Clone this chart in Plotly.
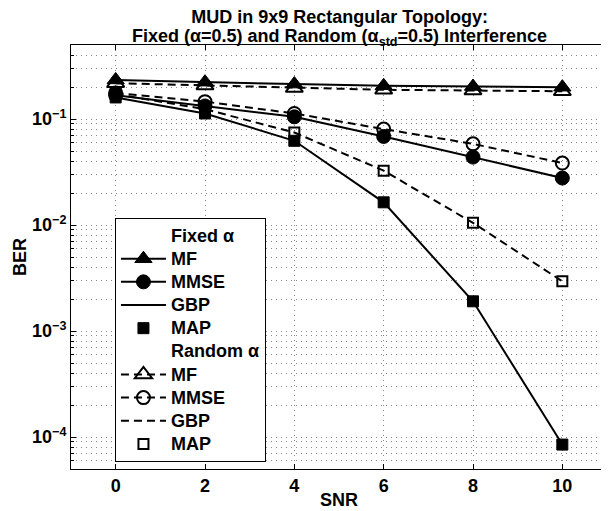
import plotly.graph_objects as go
import math

snr = [0, 2, 4, 6, 8, 10]
fixed_mf = [0.234, 0.223, 0.214, 0.206, 0.203, 0.200]
fixed_mmse = [0.168, 0.133, 0.105, 0.0686, 0.0438, 0.0278]
fixed_gbp = [0.160, 0.113, 0.0624, 0.0164, 0.00191, 0.000085]
fixed_map = [0.160, 0.113, 0.0624, 0.0164, 0.00191, 0.000085]
random_mf = [0.218, 0.207, 0.196, 0.189, 0.186, 0.183]
random_mmse = [0.176, 0.146, 0.113, 0.0805, 0.0584, 0.0385]
random_gbp = [0.172, 0.124, 0.0748, 0.0326, 0.0105, 0.00295]
random_map = [0.172, 0.124, 0.0748, 0.0326, 0.0105, 0.00295]

x_ticks = [0, 2, 4, 6, 8, 10]
y_major = [1e-4, 1e-3, 1e-2, 1e-1]
y_major_text = ["10<sup>\u22124</sup>", "10<sup>\u22123</sup>", "10<sup>\u22122</sup>", "10<sup>\u22121</sup>"]

title_lines = ["MUD in 9x9 Rectangular Topology:",
               "Fixed (\u03b1=0.5) and Random (\u03b1<sub>std</sub>=0.5) Interference"]

FONT = "Liberation Sans"
DASH = "8px,5px"

y_minor = []
for e in range(-5, 0):
    for m in range(2, 10):
        v = m * 10 ** e
        if 5e-5 <= v <= 0.5:
            y_minor.append(v)


def big(text):
    # rows/lines are spaced by the outer (smaller) font; the text itself is drawn at 18px
    return '<span style="font-size:18px">' + text + '</span>'


fig = go.Figure()


def blank(name):
    fig.add_trace(go.Scatter(x=[None], y=[None], mode="lines", name=big(name),
                             line=dict(color="rgba(0,0,0,0)", width=1), hoverinfo="skip"))


# Fixed alpha
blank("Fixed \u03b1")
fig.add_trace(go.Scatter(x=snr, y=fixed_mf, name=big("MF"), mode="lines+markers",
                         line=dict(color="black", width=2),
                         marker=dict(symbol="triangle-up", size=15, color="black",
                                     line=dict(color="black", width=1))))
fig.add_trace(go.Scatter(x=snr, y=fixed_mmse, name=big("MMSE"), mode="lines+markers",
                         line=dict(color="black", width=2),
                         marker=dict(symbol="circle", size=14, color="black",
                                     line=dict(color="black", width=1))))
fig.add_trace(go.Scatter(x=snr, y=fixed_gbp, name=big("GBP"), mode="lines",
                         line=dict(color="black", width=2)))
fig.add_trace(go.Scatter(x=snr, y=fixed_map, name=big("MAP"), mode="markers",
                         marker=dict(symbol="square", size=11, color="black",
                                     line=dict(color="black", width=1))))
# Random alpha
blank("Random \u03b1")
fig.add_trace(go.Scatter(x=snr, y=random_mf, name=big("MF"), mode="lines+markers",
                         line=dict(color="black", width=2, dash=DASH),
                         marker=dict(symbol="triangle-up-open", size=15, color="black",
                                     line=dict(color="black", width=2))))
fig.add_trace(go.Scatter(x=snr, y=random_mmse, name=big("MMSE"), mode="lines+markers",
                         line=dict(color="black", width=2, dash=DASH),
                         marker=dict(symbol="circle-open", size=13, color="black",
                                     line=dict(color="black", width=2))))
fig.add_trace(go.Scatter(x=snr, y=random_gbp, name=big("GBP"), mode="lines",
                         line=dict(color="black", width=2, dash=DASH)))
fig.add_trace(go.Scatter(x=snr, y=random_map, name=big("MAP"), mode="markers",
                         marker=dict(symbol="square-open", size=10, color="black",
                                     line=dict(color="black", width=2))))

grid_col = "#8a8a8a"
grid_dash = "1px,4px"

# page body has an 8px margin, so the figure is offset by 8px right and down
fig.update_layout(
    width=601, height=503,
    margin=dict(l=63, r=2, t=37, b=42),
    paper_bgcolor="white", plot_bgcolor="white",
    font=dict(family=FONT, size=18, color="black", weight="bold"),
    showlegend=True,
    legend=dict(x=0.082, y=0.592, xanchor="left", yanchor="top",
                bgcolor="white", bordercolor="black", borderwidth=1,
                font=dict(family=FONT, size=15.5, color="black", weight="bold"),
                tracegroupgap=0, itemwidth=45,
                entrywidthmode="pixels", entrywidth=100),
    xaxis=dict(range=[-1, 11], tickmode="array", tickvals=x_ticks,
               showgrid=True, gridcolor=grid_col, griddash=grid_dash, gridwidth=1,
               zeroline=False, showline=True, linecolor="black", linewidth=1,
               mirror="allticks", ticks="inside", ticklen=5, tickcolor="black",
               tickfont=dict(family=FONT, size=18, color="black", weight="bold")),
    yaxis=dict(type="log", range=[math.log10(5e-5), math.log10(0.5)],
               tickmode="array", tickvals=y_major, ticktext=y_major_text,
               showgrid=True, gridcolor=grid_col, griddash=grid_dash, gridwidth=1,
               zeroline=False, showline=True, linecolor="black", linewidth=1,
               mirror="allticks", ticks="inside", ticklen=5, tickcolor="black",
               tickfont=dict(family=FONT, size=18, color="black", weight="bold"),
               minor=dict(tickmode="array", tickvals=y_minor, showgrid=True,
                          gridcolor=grid_col, griddash=grid_dash, gridwidth=1,
                          ticks="inside", ticklen=3, tickcolor="black")),
    annotations=[
        dict(text="<br>".join(big(t) for t in title_lines), xref="paper", yref="paper",
             x=0.5, y=1.040, xanchor="center", yanchor="middle", showarrow=False,
             align="center",
             font=dict(family=FONT, size=14.6, color="black", weight="bold")),
        dict(text="BER", xref="paper", yref="paper", x=-0.095, y=0.5,
             xanchor="center", yanchor="middle", textangle=-90, showarrow=False,
             font=dict(family=FONT, size=18, color="black", weight="bold")),
        dict(text="SNR", xref="paper", yref="paper", x=0.5, y=-0.072,
             xanchor="center", yanchor="middle", showarrow=False,
             font=dict(family=FONT, size=18, color="black", weight="bold")),
    ],
)

fig.write_html("out.html")
